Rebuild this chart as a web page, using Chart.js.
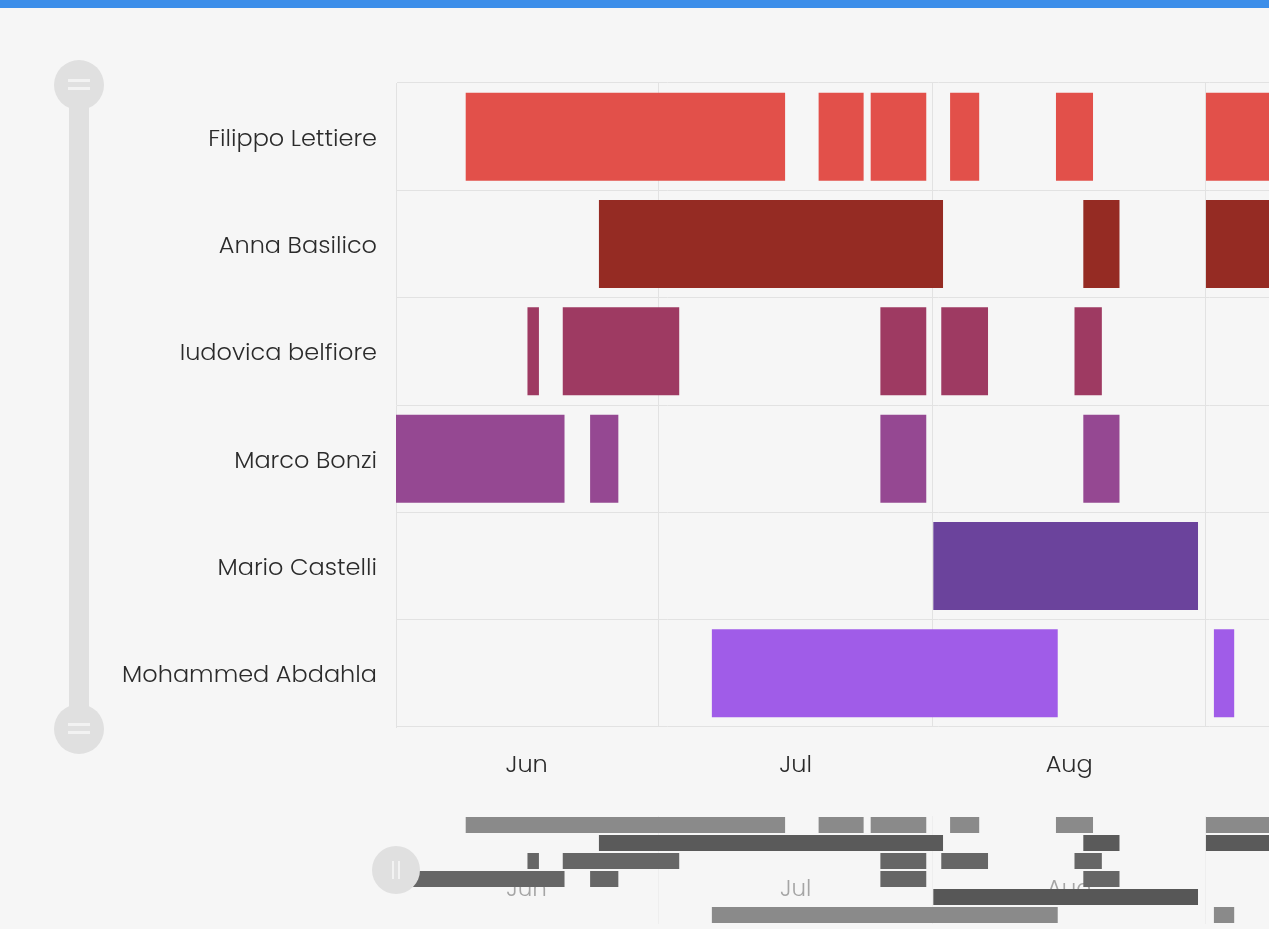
<!DOCTYPE html>
<html>
<head>
<meta charset="utf-8">
<script src="https://cdn.jsdelivr.net/npm/chart.js@4/dist/chart.umd.min.js"></script>
<style>
  html, body { margin: 0; padding: 0; background: #f6f6f6; overflow: hidden; }
  body { width: 1269px; height: 929px; position: relative; }
  .topbar { position: absolute; left: 0; top: 0; width: 100%; height: 8px; background: #3c8ee9; }
  .wrap { position: absolute; left: 0; }
  #main { top: 0; width: 1480px; height: 790px; }
  #preview { top: 816px; width: 1480px; height: 108px; }
  .track { position: absolute; left: 69px; top: 100px; width: 20px; height: 620px; background: #e0e0e0; }
  .knob { position: absolute; width: 50px; height: 50px; border-radius: 50%; background: #e0e0e0; }
  .knob i { position: absolute; background: #f2f2f2; }
</style>
</head>
<body>
<div class="topbar"></div>
<div class="track"></div>
<div class="knob" style="left:54px;top:60px"><i style="left:14px;top:19px;width:22px;height:3px"></i><i style="left:14px;top:27px;width:22px;height:3px"></i></div>
<div class="knob" style="left:54px;top:704px"><i style="left:14px;top:19px;width:22px;height:3px"></i><i style="left:14px;top:27px;width:22px;height:3px"></i></div>
<div class="wrap" id="main"><canvas id="gantt"></canvas></div>
<div class="wrap" id="preview"><canvas id="mini"></canvas></div>
<div class="knob" style="left:372px;top:846px;width:48px;height:48px"><i style="left:20px;top:15px;width:2px;height:18px"></i><i style="left:26px;top:15px;width:2px;height:18px"></i></div>
<script>
// days counted from 1 June
const people = ['Filippo Lettiere', 'Anna Basilico', 'Iudovica belfiore', 'Marco Bonzi', 'Mario Castelli', 'Mohammed Abdahla'];
const filippo = [[8.1, 44.3], [48.1, 53.2], [54.0, 60.3], [63.0, 66.3], [75.0, 79.2], [92.0, 115]];
const anna = [[23.2, 62.2], [78.1, 82.2], [92.0, 115]];
const ludovica = [[15.1, 16.4], [19.1, 32.3], [55.1, 60.3], [62.0, 67.3], [77.1, 80.2]];
const marco = [[-4, 19.3], [22.2, 25.4], [55.1, 60.3], [78.1, 82.2]];
const mario = [[61.1, 91.1]];
const mohammed = [[36.0, 75.2], [92.9, 95.2]];
const monthMid = [15, 45.5, 76.5, 107];
const monthStart = [30, 61, 92, 122];
const monthLabels = ['Jun', 'Jul', 'Aug', 'Sep'];

const colors = ['#e2504a', '#952b23', '#9e3a62', '#954892', '#6b439c', '#a05ce8'];
const greys = ['#8a8a8a', '#5a5a5a', '#666666', '#666666', '#575757', '#8a8a8a'];

const rows = [filippo, anna, ludovica, marco, mario, mohammed];
const maxSeg = Math.max(...rows.map(r => r.length));
const X_MIN = 0.2, X_MAX = 123.06;
const FONT = '"Poppins", "Inter", "Lato", sans-serif';

function buildSets(fill, pct) {
    const sets = [];
    for (let k = 0; k < maxSeg; k++) {
        sets.push({
            data: rows.map(r => r[k] || null),
            backgroundColor: fill,
            borderWidth: 0,
            borderSkipped: false,
            grouped: false,
            barPercentage: pct,
            categoryPercentage: 1
        });
    }
    return sets;
}

const gridAt = vals => scale => { scale.ticks = vals.map(v => ({ value: v })); };

new Chart(document.getElementById('gantt'), {
    type: 'bar',
    data: { labels: people, datasets: buildSets(colors, 0.82) },
    options: {
        indexAxis: 'y',
        responsive: true,
        maintainAspectRatio: false,
        animation: false,
        layout: { padding: { top: 83, right: 0, left: 0, bottom: 0 } },
        plugins: { legend: { display: false }, tooltip: { enabled: false } },
        scales: {
            x: {
                type: 'linear', min: X_MIN, max: X_MAX,
                afterBuildTicks: gridAt(monthMid),
                afterFit: s => { s.height = 63; },
                grid: { display: false },
                border: { display: false },
                ticks: {
                    padding: 17,
                    color: '#2b2b2b',
                    font: { family: FONT, size: 24, weight: 300 },
                    callback: (v, i) => monthLabels[i]
                }
            },
            x2: {
                type: 'linear', min: X_MIN, max: X_MAX, position: 'bottom',
                afterBuildTicks: gridAt(monthStart),
                afterFit: s => { s.height = 0; },
                grid: { color: '#e2e2e2', drawTicks: false },
                border: { display: false },
                ticks: { display: false }
            },
            y: {
                afterFit: s => { s.width = 396; },
                grid: { color: '#e2e2e2', drawTicks: false },
                border: { color: '#e2e2e2' },
                ticks: {
                    padding: 19,
                    labelOffset: 3,
                    color: '#2b2b2b',
                    font: { family: FONT, size: 24, weight: 300 }
                }
            }
        }
    }
});

const miniLabels = {
    id: 'miniLabels',
    beforeDatasetsDraw(chart) {
        const ctx = chart.ctx, x = chart.scales.x;
        ctx.save();
        ctx.fillStyle = '#a5a5a5';
        ctx.font = '300 23px ' + FONT;
        ctx.textAlign = 'center';
        ctx.textBaseline = 'middle';
        monthMid.forEach((v, i) => ctx.fillText(monthLabels[i], x.getPixelForValue(v), chart.chartArea.top + 74));
        ctx.restore();
    }
};

new Chart(document.getElementById('mini'), {
    type: 'bar',
    data: { labels: people, datasets: buildSets(greys, 0.89) },
    options: {
        indexAxis: 'y',
        responsive: true,
        maintainAspectRatio: false,
        animation: false,
        layout: { padding: { left: 396, top: 0, right: 0, bottom: 0 } },
        plugins: { legend: { display: false }, tooltip: { enabled: false } },
        scales: {
            x: {
                type: 'linear', min: X_MIN, max: X_MAX,
                afterBuildTicks: gridAt(monthStart),
                afterFit: s => { s.height = 0; },
                grid: { color: 'rgba(0,0,0,0.03)', drawTicks: false },
                border: { display: false },
                ticks: { display: false }
            },
            y: { display: false }
        }
    },
    plugins: [miniLabels]
});
</script>
</body>
</html>
